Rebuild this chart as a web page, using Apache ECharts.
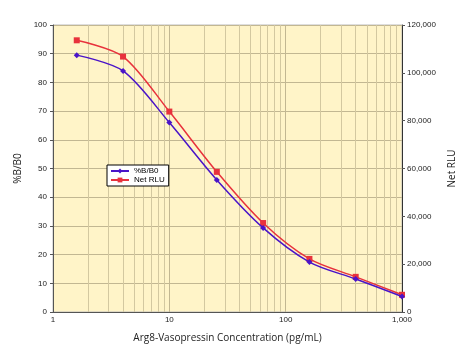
<!DOCTYPE html>
<html><head><meta charset="utf-8">
<script src="https://cdn.jsdelivr.net/npm/echarts@6/dist/echarts.min.js"></script>
<style>html,body{margin:0;padding:0;background:#fff}#c{width:469px;height:362px}</style>
</head><body><div id="c"></div>
<script>
var concentrations = [1.6, 4, 10, 25.6, 64, 160, 400, 1000];
var pctB0 = [89.5, 84, 66, 46, 29.3, 17.4, 11.5, 5.4];
var netRLU = [113600, 106800, 83800, 58600, 37200, 22200, 14700, 7200];
var leftTicks = [0, 100, 10];
var rightTicks = [0, 120000, 20000];
var minorX = [2,3,4,5,6,7,8,9,20,30,40,50,60,70,80,90,200,300,400,500,600,700,800,900];

function pairs(xs, ys){ return xs.map(function(x,i){ return [x, ys[i]]; }); }
function comma(v){ return String(v).replace(/\B(?=(\d{3})+(?!\d))/g, ','); }

var chart = echarts.init(document.getElementById('c'));
var font = 'Liberation Sans';
chart.setOption({
  animation: false,
  textStyle: {fontFamily: font},
  grid: {left: 53, right: 67, top: 25, bottom: 50, show: true, backgroundColor: '#FFF4C8', borderColor: '#BDBDBD', borderWidth: 1},
  legend: {
    orient: 'vertical', left: 107, top: 165, itemWidth: 18, itemHeight: 6, itemGap: 1,
    padding: [2, 4, 2, 3], backgroundColor: '#fff', borderColor: '#000', borderWidth: 1, borderRadius: 0,
    textStyle: {fontSize: 8, color: '#000', fontFamily: font},
    data: ['%B/B0', 'Net RLU']
  },
  xAxis: {
    type: 'log', logBase: 10, min: 1, max: 1000,
    name: 'Arg8-Vasopressin Concentration (pg/mL)', nameLocation: 'middle', nameGap: 21,
    nameTextStyle: {fontSize: 10, color: '#222', fontFamily: 'Open Sans'},
    axisLine: {lineStyle: {color: '#555'}},
    axisTick: {show: false},
    axisLabel: {fontSize: 8, color: '#222', margin: 4, formatter: function(v){ return comma(v); }},
    splitLine: {show: true, lineStyle: {color: '#C2B792', width: 1}}
  },
  yAxis: [{
    type: 'value', min: leftTicks[0], max: leftTicks[1], interval: leftTicks[2],
    name: '%B/B0', nameLocation: 'middle', nameGap: 25, nameRotate: 90,
    nameTextStyle: {fontSize: 10, color: '#222', fontFamily: 'Open Sans'},
    axisLine: {show: true, lineStyle: {color: '#555'}},
    axisTick: {show: true, length: 3, lineStyle: {color: '#555'}},
    axisLabel: {fontSize: 8, color: '#222', margin: 6},
    splitLine: {show: true, lineStyle: {color: '#C2B792', width: 1}}
  }, {
    type: 'value', min: rightTicks[0], max: rightTicks[1], interval: rightTicks[2], position: 'right',
    name: 'Net RLU', nameLocation: 'middle', nameGap: 44, nameRotate: 90,
    nameTextStyle: {fontSize: 10, color: '#222', fontFamily: 'Open Sans'},
    axisLine: {show: true, lineStyle: {color: '#333'}},
    axisTick: {show: true, length: 3, lineStyle: {color: '#555'}},
    axisLabel: {fontSize: 8, color: '#222', margin: 5, formatter: function(v){ return comma(v); }},
    splitLine: {show: false}
  }],
  series: [{
    name: 'Net RLU', type: 'line', yAxisIndex: 1, smooth: 0.3,
    data: pairs(concentrations, netRLU),
    symbol: 'rect', symbolSize: 6,
    lineStyle: {color: '#E8323C', width: 1.5}, itemStyle: {color: '#E8323C'},
    z: 3,
    markLine: {silent: true, symbol: 'none', label: {show: false},
      lineStyle: {color: '#D3C8A0', type: 'solid', width: 1},
      data: minorX.map(function(v){ return {xAxis: v}; }), z: 1}
  }, {
    name: '%B/B0', type: 'line', yAxisIndex: 0, smooth: 0.3,
    data: pairs(concentrations, pctB0),
    symbol: 'diamond', symbolSize: 6,
    lineStyle: {color: '#4A14C8', width: 1.5}, itemStyle: {color: '#4A14C8'},
    z: 4
  }]
});
</script></body></html>
